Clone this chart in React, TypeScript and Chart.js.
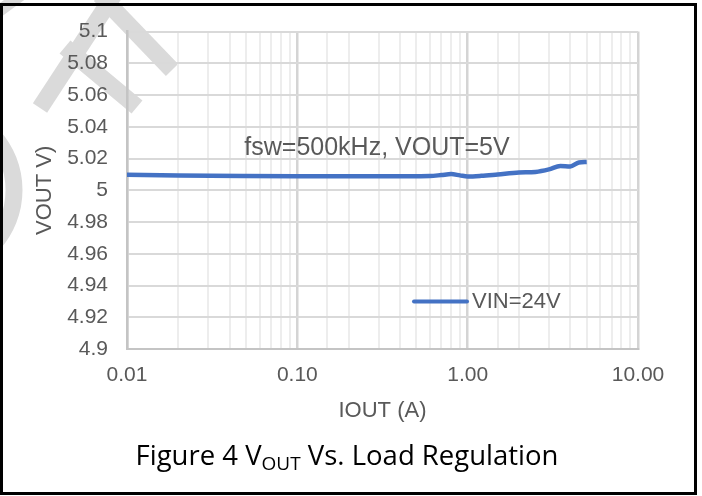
import React, { useEffect, useRef } from "react";
import { Chart, registerables } from "chart.js";

Chart.register(...registerables);

// ---- data ----
const loadCurrent = [0.01, 0.02, 0.05, 0.1, 0.2, 0.5, 0.6, 0.7, 0.8, 0.9, 1.0, 1.2, 1.5, 2.0, 2.5, 3.0, 3.5, 4.0, 4.5, 5.0];
const outputVoltage = [5.0098, 5.0093, 5.009, 5.0089, 5.0089, 5.0089, 5.009, 5.0096, 5.0102, 5.0094, 5.0087, 5.0091, 5.01, 5.0112, 5.0116, 5.0132, 5.0153, 5.015, 5.0175, 5.0178];
const seriesLabel = "VIN=24V";

const xMajorTicks = [0.01, 0.1, 1, 10];
const xTickLabels = ["0.01", "0.10", "1.00", "10.00"];
const yTickValues = [4.9, 4.92, 4.94, 4.96, 4.98, 5.0, 5.02, 5.04, 5.06, 5.08, 5.1];
const yTickLabels = ["4.9", "4.92", "4.94", "4.96", "4.98", "5", "5.02", "5.04", "5.06", "5.08", "5.1"];

const xTitle = "IOUT (A)";
const yTitle = "VOUT V)";
const annotationText = "fsw=500kHz, VOUT=5V";

const FONT = "'Liberation Sans', Arial, sans-serif";
const TEXT = "#595959";
const LINE = "#4472C4";

const majorIndex = (v: number) =>
  xMajorTicks.findIndex((m) => Math.abs(Math.log10(v) - Math.log10(m)) < 1e-6);

const watermark = {
  id: "watermark",
  beforeDraw(chart: any) {
    const ctx = chart.ctx;
    ctx.save();
    ctx.strokeStyle = "#dadada";
    ctx.lineCap = "butt";
    ctx.lineWidth = 17;
    const seg = (a: number[], b: number[]) => {
      ctx.beginPath();
      ctx.moveTo(a[0], a[1]);
      ctx.lineTo(b[0], b[1]);
      ctx.stroke();
    };
    seg([40, 108], [117, -10]);
    seg([65, 47], [137, 107]);
    seg([100, -5], [172, 70]);
    ctx.lineWidth = 12;
    seg([-5, 14], [25, -8]);
    ctx.lineWidth = 17;
    ctx.beginPath();
    ctx.arc(-67, 190, 81, -Math.PI / 2, Math.PI / 2);
    ctx.stroke();
    ctx.restore();
  },
};

const overlays = {
  id: "overlays",
  afterDraw(chart: any) {
    const ctx = chart.ctx;
    const a = chart.chartArea;
    ctx.save();
    // annotation
    ctx.fillStyle = TEXT;
    ctx.font = `25px ${FONT}`;
    ctx.textAlign = "center";
    ctx.textBaseline = "middle";
    ctx.fillText(annotationText, a.left + 250, a.top + 117);
    // legend
    const ds = chart.data.datasets[0];
    ctx.strokeStyle = ds.borderColor;
    ctx.lineWidth = 4;
    ctx.lineCap = "round";
    ctx.beginPath();
    ctx.moveTo(a.left + 287, a.top + 270);
    ctx.lineTo(a.left + 340, a.top + 270);
    ctx.stroke();
    ctx.font = `22px ${FONT}`;
    ctx.textAlign = "left";
    ctx.fillText(ds.label, a.left + 345, a.top + 270);
    ctx.restore();
  },
};

export default function App() {
  const ref = useRef<HTMLCanvasElement | null>(null);

  useEffect(() => {
    if (!ref.current) return;
    const chart = new Chart(ref.current, {
      type: "line",
      data: {
        datasets: [
          {
            label: seriesLabel,
            data: loadCurrent.map((x, i) => ({ x, y: outputVoltage[i] })),
            borderColor: LINE,
            backgroundColor: LINE,
            borderWidth: 4.5,
            pointRadius: 0,
            tension: 0.35,
            cubicInterpolationMode: "monotone",
          },
        ],
      },
      options: {
        animation: false,
        responsive: false,
        devicePixelRatio: 1,
        layout: { padding: { top: 26, right: 64, bottom: 66, left: 0 } },
        plugins: {
          legend: { display: false },
          tooltip: { enabled: false },
        },
        scales: {
          x: {
            type: "logarithmic",
            min: 0.01,
            max: 10,
            afterFit: (s: any) => {
              s.height = 81;
            },
            border: { color: "#c4c4c4", width: 2 },
            grid: {
              drawTicks: false,
              color: (c: any) => (c.tick && majorIndex(c.tick.value) >= 0 ? "#d4d4d4" : "#ededed"),
              lineWidth: (c: any) => (c.tick && majorIndex(c.tick.value) >= 0 ? 2.5 : 2),
            },
            ticks: {
              autoSkip: false,
              maxRotation: 0,
              padding: 14,
              color: TEXT,
              font: { family: FONT, size: 21 },
              callback: (v: any) => {
                const i = majorIndex(Number(v));
                return i >= 0 ? xTickLabels[i] : "";
              },
            },
            title: {
              display: true,
              text: xTitle,
              color: TEXT,
              font: { family: FONT, size: 22 },
              padding: { top: 0, bottom: 6 },
            },
          },
          y: {
            type: "linear",
            min: 4.9,
            max: 5.1,
            afterBuildTicks: (s: any) => {
              s.ticks = yTickValues.map((v) => ({ value: v }));
            },
            afterFit: (s: any) => {
              s.width = 127;
            },
            border: { color: "#c4c4c4", width: 2.5 },
            grid: { drawTicks: false, color: "#d9d9d9", lineWidth: 2 },
            ticks: {
              padding: 19,
              color: TEXT,
              font: { family: FONT, size: 21 },
              callback: (v: any) => {
                const i = yTickValues.findIndex((t) => Math.abs(t - Number(v)) < 1e-6);
                return i >= 0 ? yTickLabels[i] : "";
              },
            },
            title: {
              display: true,
              text: yTitle,
              color: TEXT,
              font: { family: FONT, size: 22 },
              padding: { top: 32, bottom: 0 },
            },
          },
        },
      },
      plugins: [watermark, overlays],
    } as any);
    return () => chart.destroy();
  }, []);

  return (
    <div style={{ position: "absolute", left: 0, top: 0, width: 702, height: 496, background: "#fff" }}>
      <canvas ref={ref} width={702} height={496} style={{ position: "absolute", left: 0, top: 0, display: "block" }} />
      <div
        style={{
          position: "absolute",
          left: 0,
          top: 3,
          width: 697,
          height: 492,
          border: "3px solid #000",
          boxSizing: "border-box",
          pointerEvents: "none",
        }}
      />
      <div
        style={{
          position: "absolute",
          left: 0,
          top: 437,
          width: 694,
          textAlign: "center",
          fontFamily: "'Open Sans', sans-serif",
          fontSize: 27.5,
          lineHeight: "36px",
          color: "#000",
          whiteSpace: "nowrap",
        }}
      >
        Figure 4 V<sub style={{ fontSize: 19, verticalAlign: "-5px" }}>OUT</sub> Vs. Load Regulation
      </div>
    </div>
  );
}
